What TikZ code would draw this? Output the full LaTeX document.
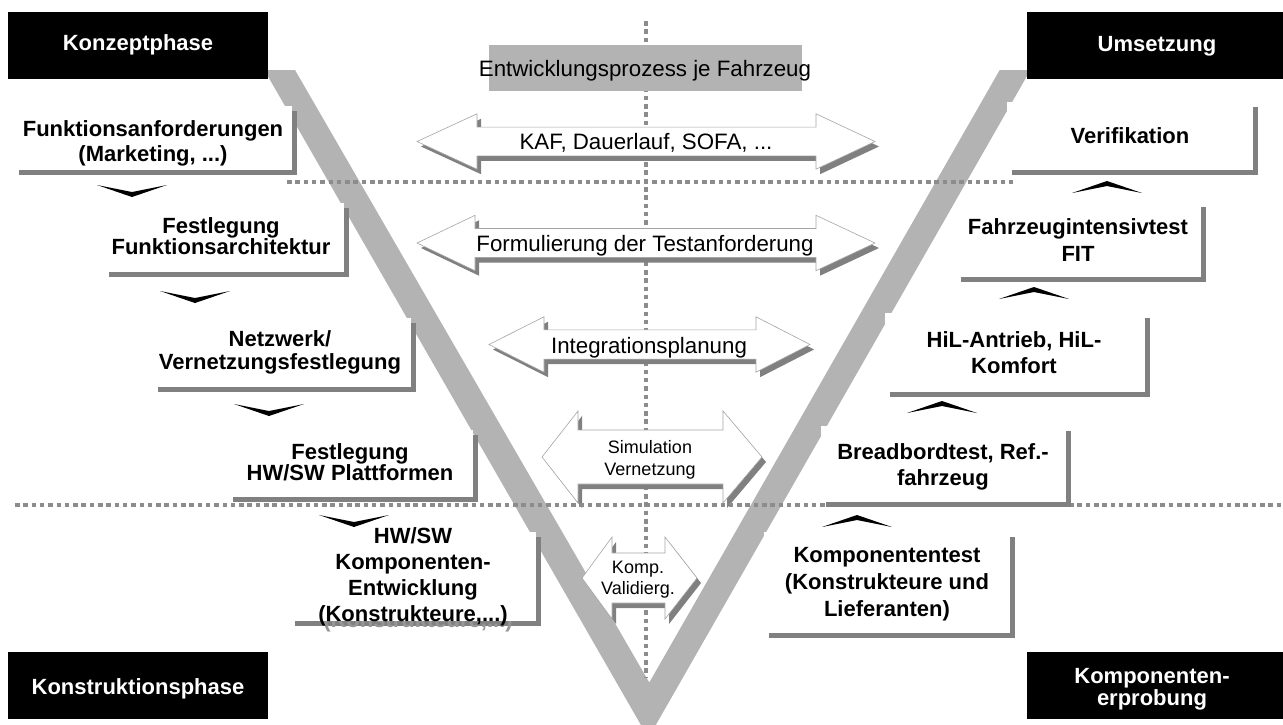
\documentclass[tikz,border=0pt]{standalone}
\usepackage{fontspec}
\setmainfont{Liberation Sans}

\definecolor{vgray}{RGB}{179,179,179}
\definecolor{shadowgray}{RGB}{128,128,128}
\definecolor{dotgray}{RGB}{140,140,140}
\definecolor{edgegray}{RGB}{165,165,165}
\definecolor{ghostgray}{RGB}{150,150,150}

\tikzset{
  vband/.style={fill=vgray},
  dotline/.style={draw=dotgray, line width=4pt, dash pattern=on 4.5pt off 3.8pt},
  phasebox/.style={fill=black},
  phasetext/.style={text=white, font=\fontsize{22}{20.5}\selectfont\bfseries, align=center, inner sep=0pt},
  boxshadow/.style={fill=shadowgray},
  boxfill/.style={fill=white},
  boxtext/.style={font=\fontsize{22}{#1}\selectfont\bfseries, align=center, inner sep=0pt},
  boxtext/.default=22,
  arrowshadow/.style={fill=shadowgray},
  arrowbody/.style={fill=white, draw=edgegray, line width=0.6pt, line join=miter},
  arrowtext/.style={font=\fontsize{22.3}{26}\selectfont, align=center, inner sep=0pt},
  smalltext/.style={font=\fontsize{18}{#1}\selectfont, align=center, inner sep=0pt},
  chevron/.style={fill=black},
  chevdown/.pic={\fill[chevron] (-35,-12) .. controls (-18,-6) .. (0,0)
      .. controls (18,-6) .. (35,-12) .. controls (18,-8.5) .. (0,-5)
      .. controls (-18,-8.5) .. (-35,-12) -- cycle;},
  chevup/.pic={\fill[chevron] (-35,12) .. controls (-18,6) .. (0,0)
      .. controls (18,6) .. (35,12) .. controls (18,8.5) .. (0,5)
      .. controls (-18,8.5) .. (-35,12) -- cycle;},
}

% double-headed block arrow with drop shadow:
% #1 left tip x, #2 left head base x, #3 right head base x, #4 right tip x,
% #5 axis y, #6 half height of the heads, #7 half height of the shaft
\newcommand\dblarrow[7]{%
  \path[arrowshadow, shift={(4,5)}] (#1,#5) -- (#2,#5-#6) -- (#2,#5-#7) -- (#3,#5-#7)
    -- (#3,#5-#6) -- (#4,#5) -- (#3,#5+#6) -- (#3,#5+#7) -- (#2,#5+#7) -- (#2,#5+#6) -- cycle;
  \path[arrowbody] (#1,#5) -- (#2,#5-#6) -- (#2,#5-#7) -- (#3,#5-#7)
    -- (#3,#5-#6) -- (#4,#5) -- (#3,#5+#6) -- (#3,#5+#7) -- (#2,#5+#7) -- (#2,#5+#6) -- cycle;
}

% white stage box with offset shadow: corners (#1,#2) and (#3,#4)
\newcommand\stagebg[4]{%
  \fill[boxshadow] (#1+5,#2+5) rectangle (#3+5,#4+5);
  \fill[boxfill] (#1,#2) rectangle (#3,#4);
}

\begin{document}
\begin{tikzpicture}[x=1pt,y=-1pt]
\useasboundingbox (0,0) rectangle (1283,724);
\clip (0,0) rectangle (1283,724);

% the V
\fill[vband] (264.3,70) -- (295,70) -- (649.3,682.5) -- (999.7,70) -- (1030.4,70)
  -- (652.9,730) -- (643.8,730) -- cycle;

% vertical centre line
\draw[dotline] (645.5,21) -- (645.5,677);

% heading
\fill[vband] (489,45) rectangle (802,91);
\node[arrowtext] (process) at (645,71) {Entwicklungsprozess je Fahrzeug};

% exchange arrows between both branches
\dblarrow{417}{477}{816}{875}{141.5}{27.7}{14.4}
\node[arrowtext] (kaf) at (646,143) {KAF, Dauerlauf, SOFA, ...};
\dblarrow{417}{475}{816}{875}{243}{27.7}{14.5}
\node[arrowtext] (testreq) at (645,246) {Formulierung der Testanforderung};
\dblarrow{489}{544}{756}{810}{344.5}{27.7}{14.6}
\node[arrowtext] (integ) at (649,348) {Integrationsplanung};
\dblarrow{542}{578}{723}{762}{457}{46}{27}
\node[smalltext=22.5] (simnet) at (650,460) {Simulation\\Vernetzung};
\dblarrow{582}{612}{665}{697}{578}{41}{25}
\node[smalltext=21] (compval) at (638,580) {Komp.\\Validierg.};

% horizontal phase lines
\draw[dotline] (287,182) -- (1013,182);
\draw[dotline] (15,505) -- (1283,505);

% left branch
\stagebg{14}{106}{292}{170}
\node[boxtext=25] (req) at (153,143.5) {Funktionsanforderungen\\(Marketing, ...)};
\stagebg{104}{203}{344}{272}
\node[boxtext=21.7] (arch) at (221,236.2) {Festlegung\\Funktionsarchitektur};
\stagebg{153}{318}{411}{387}
\node[boxtext=22.5] (net) at (280,352.6) {Netzwerk/\\Vernetzungsfestlegung};
\stagebg{228}{430}{473}{497}
\node[boxtext=21.7] (platf) at (350,462.3) {Festlegung\\HW/SW Plattformen};
\fill[boxshadow] (295,537) rectangle (541,626);
\node[boxtext=26, text=ghostgray] (compdevshadow) at (418,583)
  {HW/SW\\Komponenten-\\Entwicklung\\(Konstrukteure,...)};
\fill[boxfill] (290,532) rectangle (536,621);
\node[boxtext=26] (compdev) at (413,577)
  {HW/SW\\Komponenten-\\Entwicklung\\(Konstrukteure,...)};

% right branch
\stagebg{1007}{102}{1253}{170}
\node[boxtext] (verif) at (1130,136) {Verifikation};
\stagebg{956}{202}{1201}{277}
\node[boxtext=26.7] (fit) at (1078,239.7) {Fahrzeugintensivtest\\FIT};
\stagebg{885}{313}{1145}{392}
\node[boxtext=26.7] (hil) at (1014,352.7) {HiL-Antrieb, HiL-\\Komfort};
\stagebg{821}{426}{1066}{502}
\node[boxtext=26.5] (bread) at (943,467) {Breadbordtest, Ref.-\\fahrzeug};
\stagebg{764}{532}{1010}{633}
\node[boxtext=27] (comp) at (887,584.1) {Komponententest\\(Konstrukteure und\\Lieferanten)};

% step chevrons
\pic (c1) at (132,197) {chevdown};
\pic (c2) at (195,303) {chevdown};
\pic (c3) at (269,416) {chevdown};
\pic (c4) at (354,527) {chevdown};
\pic (c5) at (1107,181) {chevup};
\pic (c6) at (1034,287) {chevup};
\pic (c7) at (942,401) {chevup};
\pic (c8) at (857,515) {chevup};

% phase labels
\fill[phasebox] (8,12) rectangle (268,79);
\node[phasetext] (concept) at (138,44.5) {Konzeptphase};
\fill[phasebox] (1027,12) rectangle (1283,79);
\node[phasetext] (impl) at (1157,46) {Umsetzung};
\fill[phasebox] (8,652) rectangle (268,719);
\node[phasetext] (design) at (138,689) {Konstruktionsphase};
\fill[phasebox] (1027,652) rectangle (1283,719);
\node[phasetext] (comptest) at (1152,689.5) {Komponenten-\\erprobung};
\end{tikzpicture}
\end{document}
